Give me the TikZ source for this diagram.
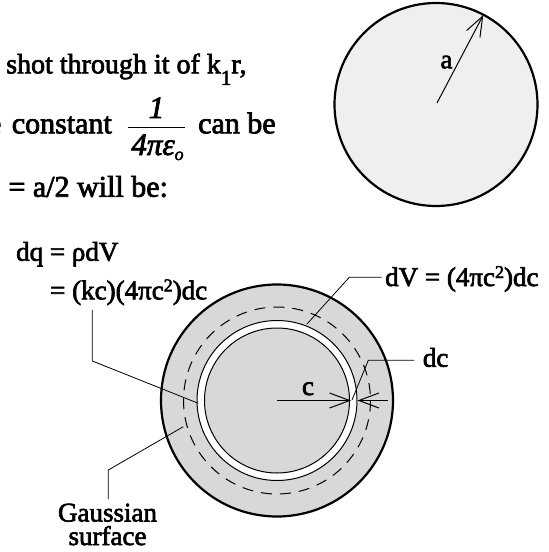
\documentclass[tikz,border=0pt]{standalone}
\usepackage{fontspec}
\setmainfont{Liberation Serif}
\newfontfamily\figfont{Liberation Serif}[FakeBold=2.5]
\usetikzlibrary{arrows.meta}
\definecolor{paledisc}{HTML}{EFEFEF}
\definecolor{shelldisc}{HTML}{D8D8D8}

\begin{document}
\begin{tikzpicture}[x=1pt,y=-1pt,
        para/.style={inner sep=0pt,font=\figfont\fontsize{30}{30}\selectfont},
        lbl/.style={inner sep=0pt,font=\figfont\fontsize{27}{23.5}\selectfont},
        ldr/.style={line width=0.8pt},
        ar/.style={-{Straight Barb[length=20pt,width=15pt]},line width=1pt}]
      \useasboundingbox (0,0) rectangle (549,552);
      % text of the page, cut at the left
      \node[para,anchor=base west,font=\figfont\fontsize{28}{28}\selectfont] (l1) at (6,73.3)
        {shot through it of k\raisebox{-11.5pt}{\fontsize{21}{21}\selectfont 1}r,};
      \node[para,anchor=base east] (l2) at (112,133.3) {e\hspace{3pt} constant};
      \node[para,anchor=base,font=\figfont\itshape\fontsize{31}{31}\selectfont] (num) at (156.5,118) {1};
      \node[para,anchor=base,font=\figfont\itshape\fontsize{31}{31}\selectfont] (den) at (157.5,155)
        {4πε\raisebox{-5pt}{\fontsize{18}{18}\selectfont o}};
      \draw[line width=1.2pt] (127.7,127.3) -- (185,127.3);
      \node[para,anchor=base west] (l2b) at (198,133.3) {can be};
      \node[para,anchor=base west] (l3) at (8.3,196.7) {= a/2 will be:};

      % sphere of radius a
      \coordinate (ca) at (437,103);
      \coordinate (ta) at (483.3,15);
      \draw[line width=2.2pt,fill=paledisc] (436,104.5) circle (101.5);
      \draw[ar] (ca) -- (ta);
      \node[lbl,anchor=base] (a) at (446.5,68.3) {a};

      % shell of radius c
      \coordinate (cc) at (277,400.5);
      \fill[shelldisc] (cc) circle (116);
      \draw[line width=2.2pt] (cc) circle (116);
      \draw[line width=1pt,dash pattern=on 11pt off 8pt] (cc) circle (93.5);
      \draw[line width=1pt,fill=white] (cc) circle (80);
      \draw[line width=1pt,fill=shelldisc] (cc) circle (72.5);
      \coordinate (tc) at (351,400.5);
      \coordinate (sd) at (387.5,400.5);
      \coordinate (td) at (357.5,400.5);
      \draw[ar] (cc) -- (tc);
      \draw[ar] (sd) -- (td);
      \node[lbl,anchor=base] (c) at (308,395) {c};

      % labels and leaders
      \node[lbl,anchor=base west] (dq) at (16,260.7) {dq = ρdV};
      \node[lbl,anchor=base west] (kc) at (50,299.3)
        {= (kc)(4πc\raisebox{8pt}{\fontsize{18}{18}\selectfont 2})dc};
      \node[lbl,anchor=base west] (dv) at (385,286)
        {dV = (4πc\raisebox{8pt}{\fontsize{18}{18}\selectfont 2})dc};
      \node[lbl,anchor=base west] (dc) at (422.7,366.7) {dc};
      \node[lbl,anchor=base,align=center] (gs) at (107.5,545) {Gaussian\\surface};
      \coordinate (kc1) at (92.3,310);
      \coordinate (kc2) at (92.3,361);
      \coordinate (kc3) at (198.3,403.3);
      \coordinate (gs1) at (108.3,499.3);
      \coordinate (gs2) at (108.3,470);
      \coordinate (gs3) at (183.3,426.7);
      \coordinate (dv1) at (381.7,277.3);
      \coordinate (dv2) at (349.3,277.3);
      \coordinate (dv3) at (307,324);
      \coordinate (dc1) at (414.3,360.3);
      \coordinate (dc2) at (368.3,360.3);
      \coordinate (dc3) at (352,400);
      \draw[ldr] (kc1) -- (kc2) -- (kc3);
      \draw[ldr] (gs1) -- (gs2) -- (gs3);
      \draw[ldr] (dv1) -- (dv2) -- (dv3);
      \draw[ldr] (dc1) -- (dc2) -- (dc3);
    \end{tikzpicture}
\end{document}
